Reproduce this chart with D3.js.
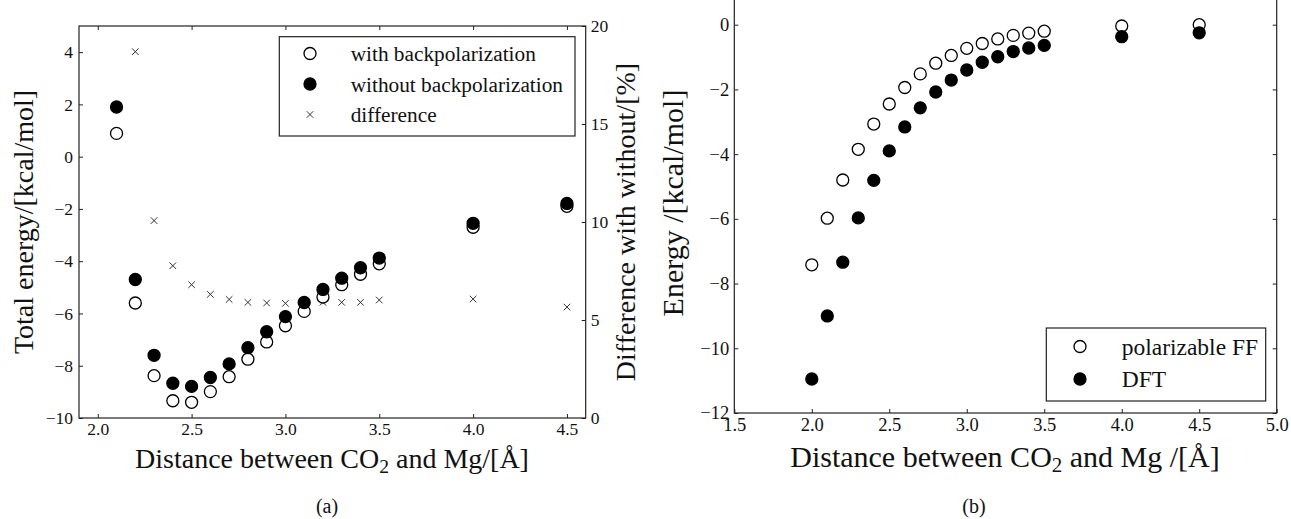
<!DOCTYPE html>
<html>
<head>
<meta charset="utf-8">
<script src="https://cdn.jsdelivr.net/npm/d3@7"></script>
<style>
  body { margin: 0; background: #fff; }
  text { font-family: "Liberation Serif", "Times New Roman", serif; fill: #111; }
</style>
</head>
<body>
<script>
// panel (a) data
const distA = [2.1, 2.2, 2.3, 2.4, 2.5, 2.6, 2.7, 2.8, 2.9, 3.0, 3.1, 3.2, 3.3, 3.4, 3.5, 4.0, 4.5];
const withBack = [0.89, -5.60, -8.38, -9.34, -9.40, -8.99, -8.42, -7.75, -7.09, -6.47, -5.92, -5.37, -4.90, -4.50, -4.10, -2.70, -1.90];
const withoutBack = [1.90, -4.70, -7.60, -8.67, -8.79, -8.45, -7.93, -7.31, -6.70, -6.12, -5.58, -5.08, -4.65, -4.25, -3.88, -2.55, -1.79];
const distDiff = [2.2, 2.3, 2.4, 2.5, 2.6, 2.7, 2.8, 2.9, 3.0, 3.1, 3.2, 3.3, 3.4, 3.5, 4.0, 4.5];
const diffPct = [18.69, 10.07, 7.77, 6.80, 6.31, 6.05, 5.90, 5.87, 5.85, 5.90, 5.90, 5.90, 5.90, 6.02, 6.07, 5.66];
const xTicksA = [2.0, 2.5, 3.0, 3.5, 4.0, 4.5];
const yTicksA = [-10, -8, -6, -4, -2, 0, 2, 4];
const y2TicksA = [0, 5, 10, 15, 20];

// panel (b) data
const distB = [2.0, 2.1, 2.2, 2.3, 2.4, 2.5, 2.6, 2.7, 2.8, 2.9, 3.0, 3.1, 3.2, 3.3, 3.4, 3.5, 4.0, 4.5];
const polFF = [-7.42, -5.98, -4.80, -3.85, -3.07, -2.45, -1.94, -1.52, -1.19, -0.95, -0.73, -0.58, -0.44, -0.33, -0.26, -0.20, -0.04, 0.0];
const dft = [-10.95, -9.00, -7.34, -5.97, -4.81, -3.90, -3.16, -2.57, -2.08, -1.71, -1.40, -1.16, -0.99, -0.83, -0.72, -0.64, -0.37, -0.25];
const xTicksB = [1.5, 2.0, 2.5, 3.0, 3.5, 4.0, 4.5, 5.0];
const yTicksB = [-12, -10, -8, -6, -4, -2, 0];

const W = 1291, H = 519;
const serif = '"Liberation Serif", "Times New Roman", serif';
const svg = d3.select("body").append("svg")
    .attr("width", W)
    .attr("height", H);

const fmt1 = d3.format(".1f");
const fmt0 = d3.format("d");

// axis text in serif, like the rest
function styleAxis(a, size) {
    a.attr("font-family", serif);
    a.selectAll("text").style("font-size", size + "px").attr("fill", "#111");
    a.selectAll(".tick line").attr("stroke", "#222");
    a.select(".domain").remove();
}

// small helper: draw a frame with inward ticks on all sides
function frame(g, x, y, opts) {
    const [x0, x1] = x.range();
    const [y1, y0] = y.range();
    const tk = 4;

    g.append("g")
        .attr("transform", `translate(0,${y1})`)
        .call(d3.axisBottom(x).tickValues(opts.xTicks).tickFormat(fmt1)
            .tickSizeInner(-tk).tickSizeOuter(0).tickPadding(5))
        .call(a => styleAxis(a, opts.tickFont));

    g.append("g")
        .attr("transform", `translate(0,${y0})`)
        .call(d3.axisTop(x).tickValues(opts.xTicks).tickFormat("")
            .tickSizeInner(-tk).tickSizeOuter(0))
        .call(a => styleAxis(a, opts.tickFont));

    g.append("g")
        .attr("transform", `translate(${x0},0)`)
        .call(d3.axisLeft(y).tickValues(opts.yTicks).tickFormat(fmt0)
            .tickSizeInner(-tk).tickSizeOuter(0).tickPadding(opts.yPad))
        .call(a => styleAxis(a, opts.tickFont));

    g.append("rect")
        .attr("x", x0).attr("y", y0)
        .attr("width", x1 - x0).attr("height", y1 - y0)
        .attr("fill", "none")
        .attr("stroke", "#222")
        .attr("stroke-width", 1.2);
}

function xLabel(g, cx, cy, size, sep) {
    const t = g.append("text")
        .attr("x", cx).attr("y", cy)
        .attr("text-anchor", "middle")
        .style("font-size", size + "px");
    t.append("tspan").text("Distance between CO");
    t.append("tspan").attr("dy", "0.25em").style("font-size", "70%").text("2");
    t.append("tspan").attr("dy", "-0.175em").text(" and Mg" + sep + "/[Å]");
}

function circles(g, xs, ys, x, y, filled) {
    g.append("g").selectAll("circle")
        .data(xs.map((d, i) => [d, ys[i]]))
        .join("circle")
        .attr("cx", d => x(d[0]))
        .attr("cy", d => y(d[1]))
        .attr("r", 6)
        .attr("fill", filled ? "#000" : "#fff")
        .attr("stroke", "#000")
        .attr("stroke-width", 1.3);
}

// ---------------- panel (a) ----------------
const gA = svg.append("g");
const xA = d3.scaleLinear().domain([1.9, 4.6]).range([79, 585.7]);
const yA = d3.scaleLinear().domain([-10, 5]).range([418, 26]);
const y2A = d3.scaleLinear().domain([0, 20]).range([418, 26]);

frame(gA, xA, yA, { xTicks: xTicksA, yTicks: yTicksA, tickFont: 17.5, yPad: 6 });

// right axis for the percentage difference
gA.append("g")
    .attr("transform", `translate(585.7,0)`)
    .call(d3.axisRight(y2A).tickValues(y2TicksA).tickFormat(fmt0)
        .tickSizeInner(-4).tickSizeOuter(0).tickPadding(5))
    .call(a => styleAxis(a, 17.5));

// difference crosses
const cross = d3.symbol().type(d3.symbolX).size(30);
gA.append("g").selectAll("path")
    .data(distDiff.map((d, i) => [d, diffPct[i]]))
    .join("path")
    .attr("transform", d => `translate(${xA(d[0])},${y2A(d[1])})`)
    .attr("d", cross)
    .attr("fill", "none")
    .attr("stroke", "#333")
    .attr("stroke-width", 1);

circles(gA, distA, withBack, xA, yA, false);
circles(gA, distA, withoutBack, xA, yA, true);

// legend (a)
gA.append("rect")
    .attr("x", 279.3).attr("y", 36.7)
    .attr("width", 575 - 279.3).attr("height", 136 - 36.7)
    .attr("fill", "#fff").attr("stroke", "#222").attr("stroke-width", 1.2);
const legA = [
    { label: "with backpolarization", kind: "open" },
    { label: "without backpolarization", kind: "filled" },
    { label: "difference", kind: "cross" }
];
legA.forEach((d, i) => {
    const cy = 53.5 + i * 30.5;
    if (d.kind === "cross") {
        gA.append("path")
            .attr("transform", `translate(310,${cy})`)
            .attr("d", cross)
            .attr("fill", "none").attr("stroke", "#333");
    } else {
        gA.append("circle")
            .attr("cx", 310).attr("cy", cy).attr("r", 6)
            .attr("fill", d.kind === "filled" ? "#000" : "#fff")
            .attr("stroke", "#000").attr("stroke-width", 1.3);
    }
    gA.append("text")
        .attr("x", 350.7).attr("y", cy + 7.5)
        .style("font-size", "21.3px")
        .text(d.label);
});

xLabel(gA, 332, 468, 28, "");
gA.append("text")
    .attr("transform", "translate(33,222) rotate(-90)")
    .attr("text-anchor", "middle")
    .style("font-size", "28px")
    .text("Total energy/[kcal/mol]");
gA.append("text")
    .attr("transform", "translate(635,222) rotate(-90)")
    .attr("text-anchor", "middle")
    .style("font-size", "28px")
    .text("Difference with without/[%]");
gA.append("text")
    .attr("x", 327).attr("y", 513)
    .attr("text-anchor", "middle")
    .style("font-size", "20px")
    .text("(a)");

// ---------------- panel (b) ----------------
const gB = svg.append("g");
const xB = d3.scaleLinear().domain([1.5, 5.0]).range([734.3, 1276.7]);
const yB = d3.scaleLinear().domain([-12, 1]).range([413, -7.65]);

frame(gB, xB, yB, { xTicks: xTicksB, yTicks: yTicksB, tickFont: 18.5, yPad: 5 });

// mirrored ticks on the right spine
gB.append("g")
    .attr("transform", `translate(1276.7,0)`)
    .call(d3.axisRight(yB).tickValues(yTicksB).tickFormat("")
        .tickSizeInner(-4).tickSizeOuter(0))
    .call(a => styleAxis(a, 18.5));

circles(gB, distB, polFF, xB, yB, false);
circles(gB, distB, dft, xB, yB, true);

// legend (b)
gB.append("rect")
    .attr("x", 1046.3).attr("y", 328)
    .attr("width", 1265.7 - 1046.3).attr("height", 401 - 328)
    .attr("fill", "#fff").attr("stroke", "#222").attr("stroke-width", 1.2);
const legB = [
    { label: "polarizable FF", filled: false },
    { label: "DFT", filled: true }
];
legB.forEach((d, i) => {
    const cy = 346.5 + i * 32.5;
    gB.append("circle")
        .attr("cx", 1080).attr("cy", cy).attr("r", 6)
        .attr("fill", d.filled ? "#000" : "#fff")
        .attr("stroke", "#000").attr("stroke-width", 1.3);
    gB.append("text")
        .attr("x", 1121.7).attr("y", cy + 8)
        .style("font-size", "23.5px")
        .text(d.label);
});

xLabel(gB, 1005, 467, 30, " ");
gB.append("text")
    .attr("transform", "translate(683,203) rotate(-90)")
    .attr("text-anchor", "middle")
    .style("font-size", "30px")
    .text("Energy /[kcal/mol]");
gB.append("text")
    .attr("x", 974).attr("y", 513)
    .attr("text-anchor", "middle")
    .style("font-size", "20px")
    .text("(b)");
</script>
</body>
</html>
